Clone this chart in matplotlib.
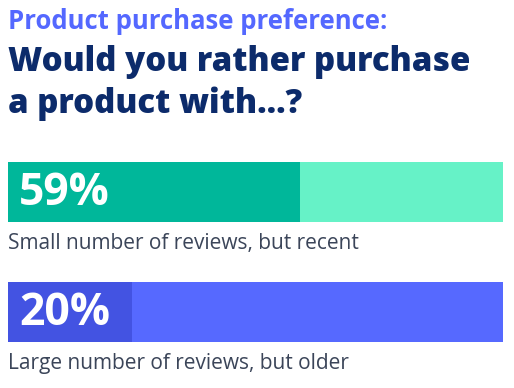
import matplotlib.pyplot as plt

# ==========================================
# Data
# ==========================================
categories = ["Small number of reviews, but recent",
              "Large number of reviews, but older"]
values = [59, 20]
value_labels = ["59%", "20%"]

kicker = "Product purchase preference:"
title = "Would you rather purchase\na product with…?"

# ==========================================
# Style
# ==========================================
dark_colors = ["#00b79a", "#4353e2"]
light_colors = ["#66f2c7", "#5669ff"]
NAVY = "#0c2b6b"
BLUE = "#5468ff"
GREY = "#3b4559"
MIN_BOX = 25  # dark label box never narrower than this

plt.rcParams["font.family"] = ["Open Sans", "DejaVu Sans"]

W, H = 514, 388
fig = plt.figure(figsize=(W / 100, H / 100), dpi=100)
fig.patch.set_facecolor("white")

# bars axes: pixel box 8..503 x 162..342
ax = fig.add_axes([8 / W, 1 - 342 / H, 495 / W, 180 / H])
ax.set_xlim(0, 100)
ax.set_ylim(1.25, -0.25)
ax.axis("off")

for i, (cat, v, lab) in enumerate(zip(categories, values, value_labels)):
    ax.barh(i, 100, height=0.5, color=light_colors[i], linewidth=0)
    ax.barh(i, max(v, MIN_BOX), height=0.5, color=dark_colors[i], linewidth=0)
    ax.text(2.2, i + 0.105, lab, color="white", fontsize=32, fontweight="bold",
            va="baseline", ha="left")
    ax.text(0, i + 0.475, cat, color=GREY, fontsize=15, va="baseline", ha="left",
            clip_on=False)

fig.text(8 / W, 1 - 29 / H, kicker, color=BLUE, fontsize=18.5,
         fontweight="bold", va="baseline", ha="left")
fig.text(8 / W, 1 - 113 / H, title, color=NAVY, fontsize=23.8,
         fontweight="heavy", va="baseline", ha="left", linespacing=1.3)

fig.savefig("out.png", dpi=100, facecolor="white")
